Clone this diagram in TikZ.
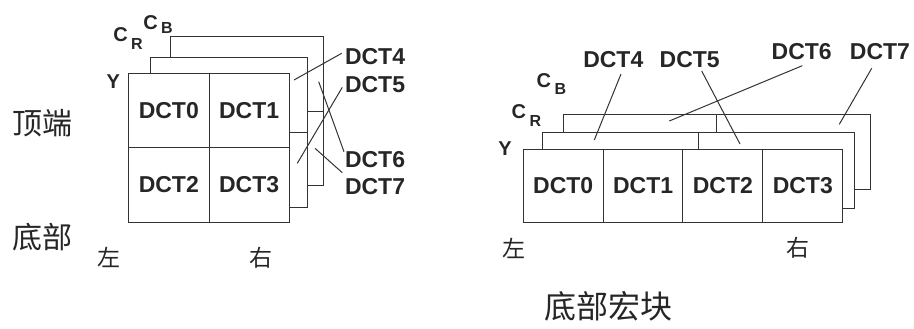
\documentclass[tikz,border=0pt]{standalone}
\usepackage{fontspec}
\setsansfont{Liberation Sans}
\newfontfamily\cjk{Noto Sans CJK SC}
\definecolor{ink}{HTML}{262626}
\definecolor{edge}{HTML}{333333}
\begin{document}
\begin{tikzpicture}[x=1pt,y=-1pt,
  every node/.style={inner sep=0pt,outer sep=0pt,text=ink},
  dct/.style={font=\sffamily\bfseries\fontsize{23}{23}\selectfont},
  cell/.style={dct,draw=edge,fill=white,line width=1pt,minimum width=#1,minimum height=74.5pt},
  cellr/.style={dct,draw=edge,fill=white,line width=1pt,minimum width=79.85pt,minimum height=73.3pt},
  plane/.style={draw=edge,line width=1pt,fill=white},
  lead/.style={draw=edge,line width=1pt},
  comp/.style={font=\sffamily\bfseries\fontsize{20}{20}\selectfont},
  zh/.style={font=\cjk\fontsize{30}{30}\selectfont},
  zhs/.style={font=\cjk\fontsize{23}{23}\selectfont}]
\useasboundingbox (0,0) rectangle (914,329);
\newcommand{\subR}[1]{\hspace{3.5pt}\raisebox{#1}{\fontsize{16}{16}\selectfont R}}
\newcommand{\subB}[1]{\hspace{3.5pt}\raisebox{#1}{\fontsize{16}{16}\selectfont B}}

% ---------- left diagram ----------
\draw[plane] (170.7,36.7) rectangle (323.3,185.7);
\draw[lead] (170.7,111.2) -- (323.3,111.2);
\draw[plane] (150,57.3) rectangle (307.3,207.3);
\draw[lead] (150,132.3) -- (307.3,132.3);
\node[cell=81pt] (d0) at (168.8,110.55) {DCT0};
\node[cell=79.7pt] (d1) at (249.15,110.55) {DCT1};
\node[cell=81pt] (d2) at (168.8,185.05) {DCT2};
\node[cell=79.7pt] (d3) at (249.15,185.05) {DCT3};

\node[comp,anchor=base west] (yl) at (106.7,88.3) {Y};
\node[comp,anchor=base west] (crl) at (113.3,41.7) {C\subR{-8.3pt}};
\node[comp,anchor=base west] (cbl) at (143.3,30) {C\subB{-3.3pt}};

\node[dct,anchor=west] (l4) at (345,56.7) {DCT4};
\node[dct,anchor=west] (l5) at (345,85) {DCT5};
\node[dct,anchor=west] (l6) at (345,160) {DCT6};
\node[dct,anchor=west] (l7) at (345,186.7) {DCT7};
\coordinate (a4) at (294,80);     \coordinate (b4) at (341.7,53.3);
\coordinate (a5) at (297.3,163.3); \coordinate (b5) at (342.3,87.3);
\coordinate (a6) at (318.7,81.7);  \coordinate (b6) at (344,151.7);
\coordinate (a7) at (315,148.3);   \coordinate (b7) at (342.3,172.7);
\draw[lead] (a4) -- (b4);
\draw[lead] (a5) -- (b5);
\draw[lead] (a6) -- (b6);
\draw[lead] (a7) -- (b7);

\node[zhs] (zuoL) at (109,257.5) {左};
\node[zhs] (youL) at (261,257.5) {右};
\node[zh] (top) at (42.5,123.3) {顶端};
\node[zh] (bot) at (42.5,236.7) {底部};

% ---------- right diagram ----------
\draw[plane] (563.3,115) rectangle (870,189.3);
\draw[lead] (716.7,115) -- (716.7,189.3);
\draw[plane] (542.7,132.7) rectangle (854,208.3);
\draw[lead] (698.4,132.7) -- (698.4,208.3);
\node[cellr] (r0) at (563.2,185.65) {DCT0};
\node[cellr] (r1) at (643.1,185.65) {DCT1};
\node[cellr] (r2) at (722.9,185.65) {DCT2};
\node[cellr] (r3) at (802.8,185.65) {DCT3};

\node[comp,anchor=base west] (yr) at (498.3,155) {Y};
\node[comp,anchor=base west] (crr) at (511.7,118.3) {C\subR{-8.4pt}};
\node[comp,anchor=base west] (cbr) at (536.7,87.3) {C\subB{-7.7pt}};

\node[dct] (m4) at (613.3,59.2) {DCT4};
\node[dct] (m5) at (689.7,59.2) {DCT5};
\node[dct] (m6) at (801.7,51.8) {DCT6};
\node[dct] (m7) at (880,51.8) {DCT7};
\coordinate (c4) at (594.3,140);   \coordinate (e4) at (621,74);
\coordinate (c5) at (740,144);     \coordinate (e5) at (701.7,71);
\coordinate (c6) at (669.3,121);   \coordinate (e6) at (802.3,65.7);
\coordinate (c7) at (839.3,124.3); \coordinate (e7) at (871.7,68.3);
\draw[lead] (c4) -- (e4);
\draw[lead] (c5) -- (e5);
\draw[lead] (c6) -- (e6);
\draw[lead] (c7) -- (e7);

\node[zhs] (zuoR) at (514,248) {左};
\node[zhs] (youR) at (797.5,248) {右};
\node[zh,font=\cjk\fontsize{32}{32}\selectfont] (mb) at (608,306.7) {底部宏块};
\end{tikzpicture}
\end{document}
